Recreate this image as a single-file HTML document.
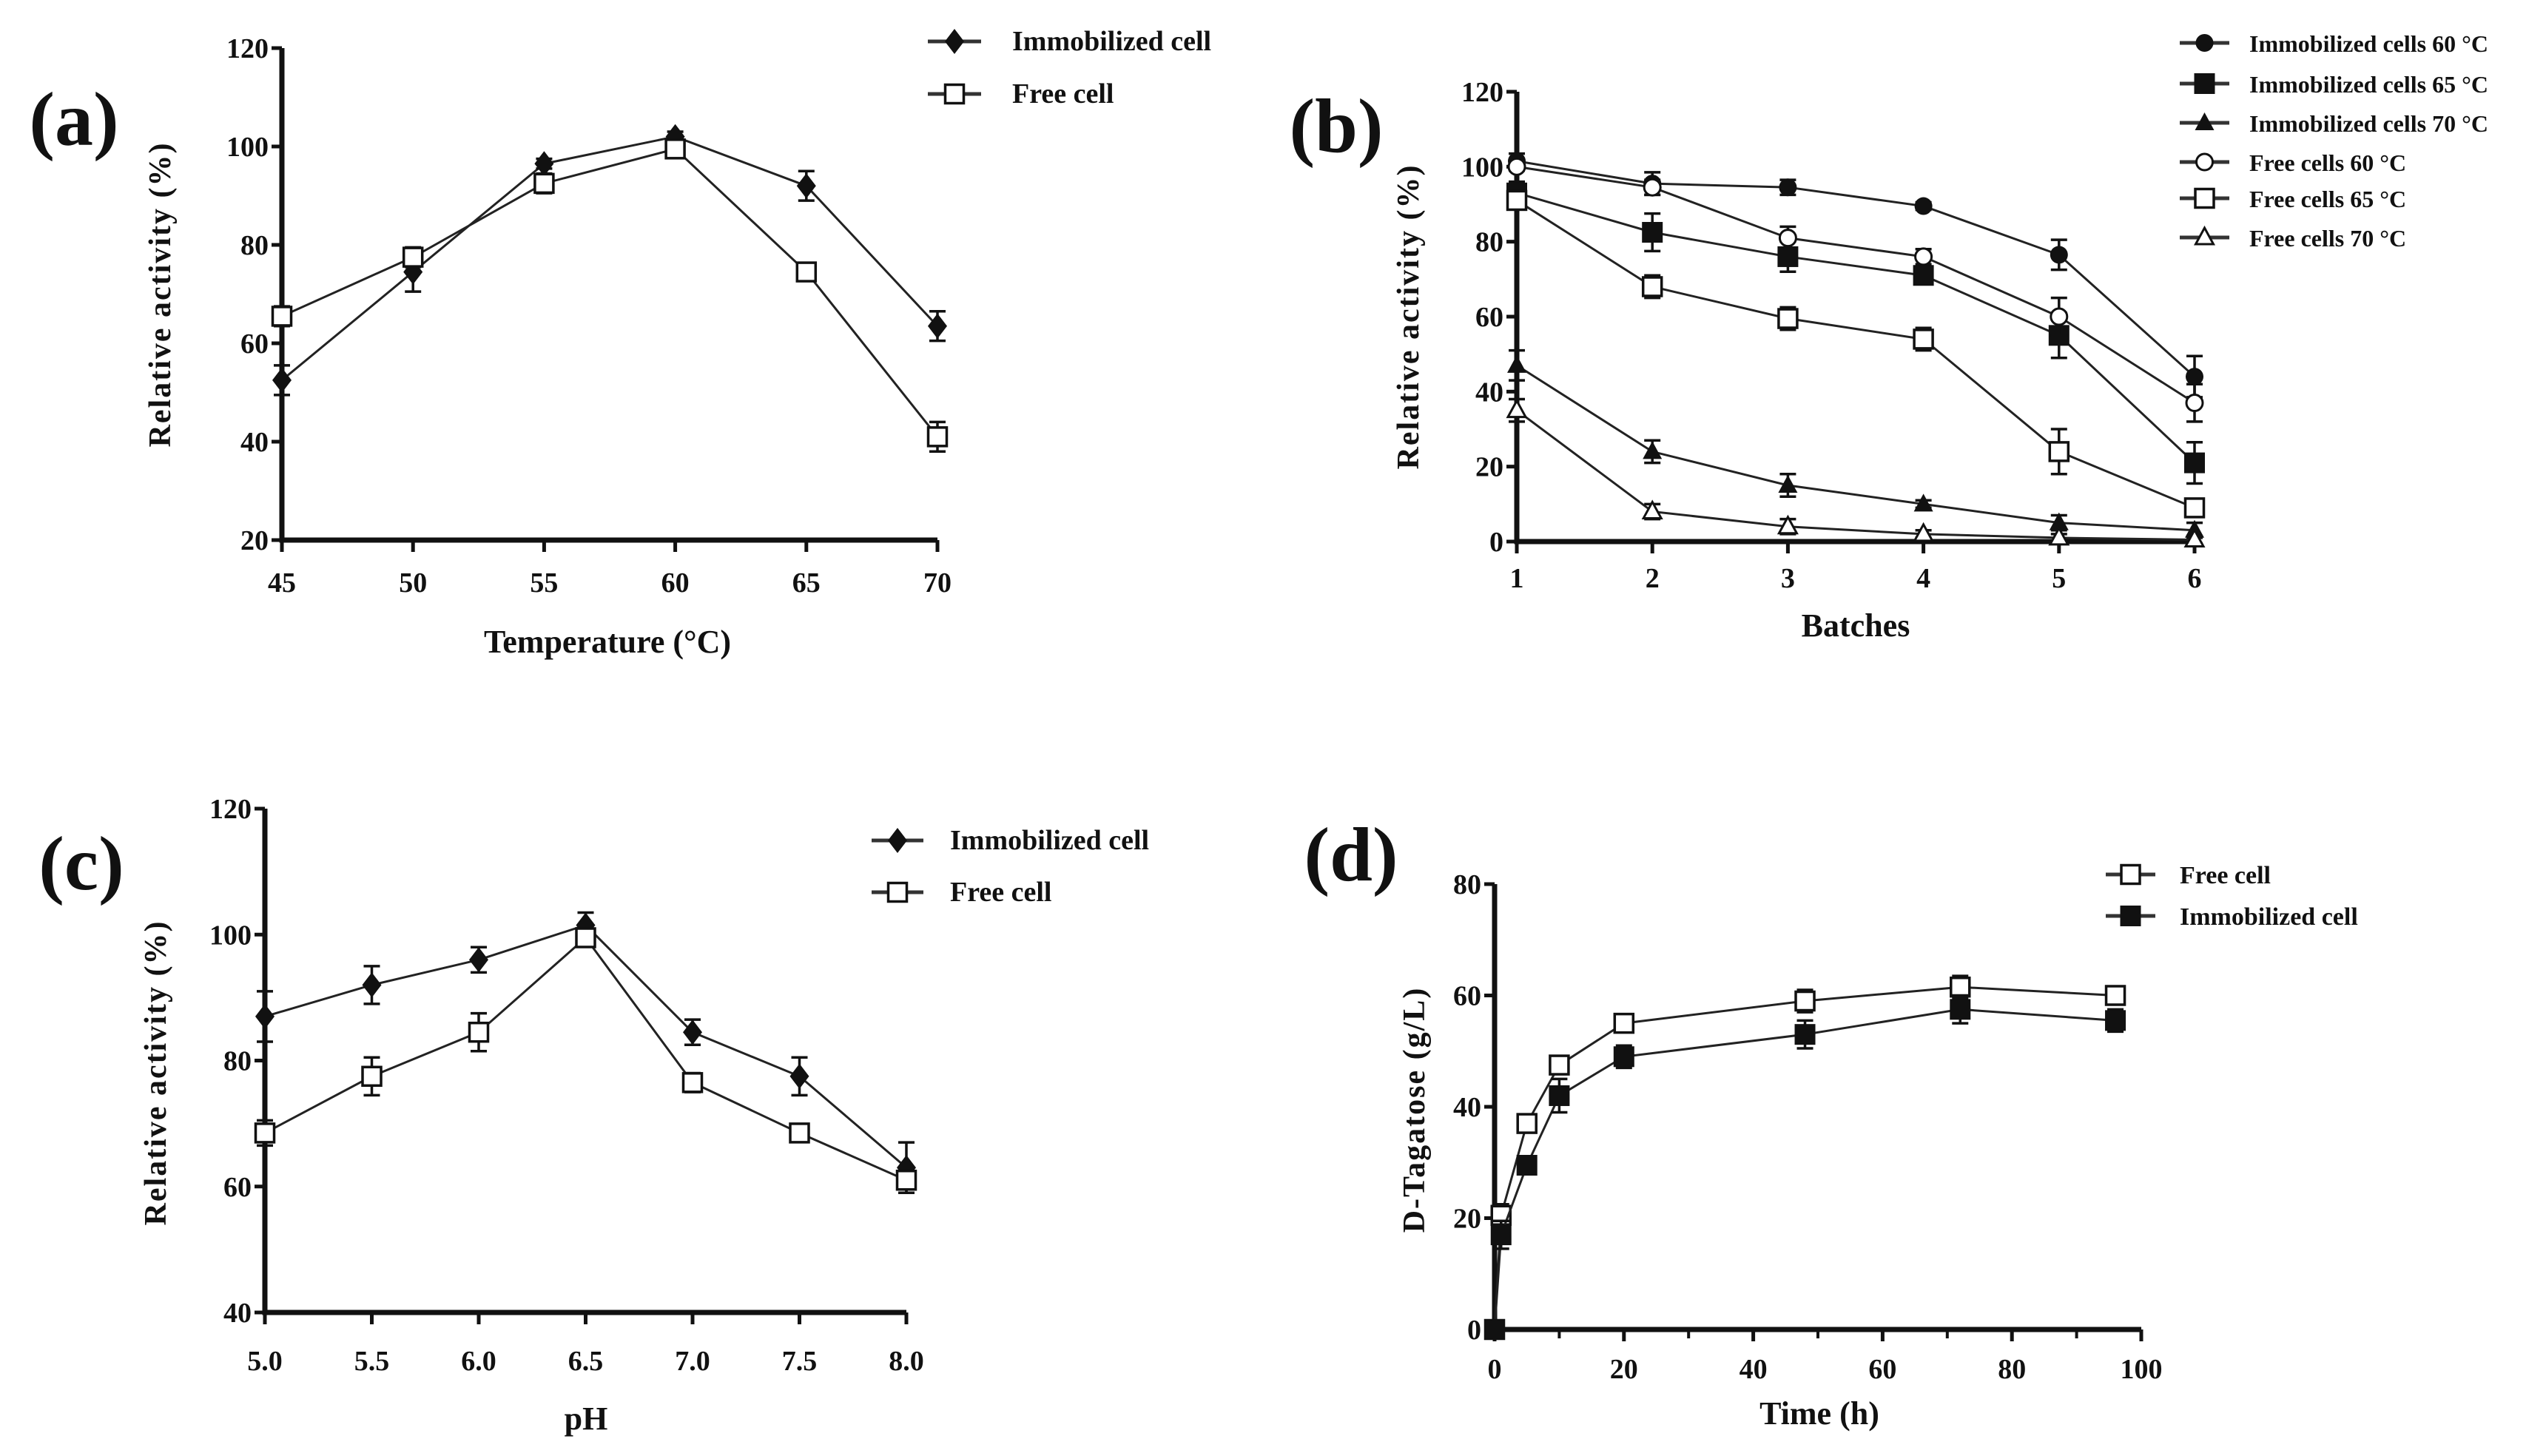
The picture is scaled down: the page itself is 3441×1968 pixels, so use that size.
<!DOCTYPE html>
<html><head><meta charset="utf-8"><style>
html,body{margin:0;padding:0;background:#fff}
svg{display:block}
text{font-family:"Liberation Serif",serif;font-weight:bold;fill:#111}
</style></head><body>
<svg id="fig" width="3441" height="1968" viewBox="0 0 3441 1968" xmlns="http://www.w3.org/2000/svg"></svg>
<script>
// ---- Panel (a) data ----
const aX = [45,50,55,60,65,70];
const aImm = [52.5,74.5,96.5,102,92,63.5];
const aImmErr = [3,4,1,1,3,3];
const aFree = [65.5,77.5,92.5,99.5,74.5,41];
const aFreeErr = [2,2,2,1,1,3];
const aYTicks = [20,40,60,80,100,120];
// ---- Panel (b) data ----
const bX = [1,2,3,4,5,6];
const bImm60 = [101.5,95.5,94.5,89.5,76.5,44];
const bImm60Err = [2,3,2,1,4,5.5];
const bImm65 = [93,82.5,76,71,55,21];
const bImm65Err = [3,5,4,2,6,5.5];
const bImm70 = [47,24,15,10,5,3];
const bImm70Err = [4,3,3,1,2,2];
const bFree60 = [100,94.5,81,76,60,37];
const bFree60Err = [1,2,3,2,5,5];
const bFree65 = [91,68,59.5,54,24,9];
const bFree65Err = [2,3,3,3,6,2];
const bFree70 = [35,8,4,2,1,0.5];
const bFree70Err = [3,2,2,1,1,1];
const bYTicks = [0,20,40,60,80,100,120];
// ---- Panel (c) data ----
const cX = [5.0,5.5,6.0,6.5,7.0,7.5,8.0];
const cXLabels = ["5.0","5.5","6.0","6.5","7.0","7.5","8.0"];
const cImm = [87,92,96,101.5,84.5,77.5,63];
const cImmErr = [4,3,2,2,2,3,4];
const cFree = [68.5,77.5,84.5,99.5,76.5,68.5,61];
const cFreeErr = [2,3,3,1,1.5,1,2];
const cYTicks = [40,60,80,100,120];
// ---- Panel (d) data ----
const dX = [0,1,5,10,20,48,72,96];
const dFree = [0,20.5,37,47.5,55,59,61.5,60];
const dFreeErr = [0,2,1.5,1.5,1,2,2,1];
const dImm = [0,17,29.5,42,49,53,57.5,55.5];
const dImmErr = [0,2.5,1.5,3,2,2.5,2.5,2];
const dXTicks = [0,20,40,60,80,100];
const dYTicks = [0,20,40,60,80];

const NS="http://www.w3.org/2000/svg";
const svg=document.getElementById('fig');
function mk(tag,attrs,parent,txt){const e=document.createElementNS(NS,tag);for(const k in attrs)e.setAttribute(k,attrs[k]);if(txt!==undefined)e.textContent=txt;(parent||svg).appendChild(e);return e;}
function lin(d0,d1,p0,p1){return v=>p0+(v-d0)*(p1-p0)/(d1-d0);}

function marker(g,type,x,y){
  const s=14;let e;
  if(type==='diamond'){e=mk('polygon',{points:`${x},${y-17} ${x+13},${y} ${x},${y+17} ${x-13},${y}`,fill:'#111'},g);}
  else if(type==='sqfill'){e=mk('rect',{x:x-s,y:y-s,width:2*s,height:2*s,fill:'#111'},g);}
  else if(type==='sqopen'){e=mk('rect',{x:x-s+1.5,y:y-s+1.5,width:2*s-3,height:2*s-3,fill:'#fff',stroke:'#111','stroke-width':3.5},g);}
  else if(type==='circfill'){e=mk('circle',{cx:x,cy:y,r:12,fill:'#111'},g);}
  else if(type==='circopen'){e=mk('circle',{cx:x,cy:y,r:11,fill:'#fff',stroke:'#111','stroke-width':3},g);}
  else if(type==='trifill'){e=mk('polygon',{points:`${x},${y-14} ${x+13},${y+10} ${x-13},${y+10}`,fill:'#111'},g);}
  else if(type==='triopen'){e=mk('polygon',{points:`${x},${y-13} ${x+12},${y+9} ${x-12},${y+9}`,fill:'#fff',stroke:'#111','stroke-width':3},g);}
  
  
}

function series(name,xs,ys,errs,sx,sy,type){
  const g=mk('g',{});
  
  
  const pts=xs.map((x,i)=>sx(x)+','+sy(ys[i])).join(' ');
  mk('polyline',{points:pts,fill:'none',stroke:'#222','stroke-width':3},g);
  xs.forEach((x,i)=>{
    if(errs[i]>0){
      const px=sx(x),t=sy(ys[i]+errs[i]),b=sy(ys[i]-errs[i]);
      const eb=mk('path',{d:`M${px},${t}V${b}M${px-11},${t}H${px+11}M${px-11},${b}H${px+11}`,stroke:'#111','stroke-width':3.5,fill:'none'},g);
      
      
    }
  });
  xs.forEach((x,i)=>marker(g,type,sx(x),sy(ys[i])));
}

function axes(p){
  const g=mk('g',{});
  
  
  mk('path',{d:`M${p.x0},${p.yt}V${p.yb}H${p.x1}`,stroke:'#111','stroke-width':7,fill:'none'},g);
  p.yticks.forEach(v=>{const y=p.sy(v);
    mk('line',{x1:p.x0-14,x2:p.x0,y1:y,y2:y,stroke:'#111','stroke-width':5},g);
    const t=mk('text',{x:p.x0-18,y:y+13,'text-anchor':'end','font-size':38},g,String(v));
    
    
  });
  p.xticks.forEach((v,i)=>{const x=p.sx(v);
    mk('line',{x1:x,x2:x,y1:p.yb,y2:p.yb+16,stroke:'#111','stroke-width':5},g);
    const t=mk('text',{x:x,y:p.yb+p.xlo,'text-anchor':'middle','font-size':38},g,p.xlabels?p.xlabels[i]:String(v));
    
    
  });
  (p.minor||[]).forEach(v=>{const x=p.sx(v);
    mk('line',{x1:x,x2:x,y1:p.yb,y2:p.yb+12,stroke:'#111','stroke-width':4},g);});
  const xt=mk('text',{x:p.xtx,y:p.xty,'text-anchor':'middle','font-size':44},g,p.xtitle);
  
  
  const yt=mk('text',{x:0,y:0,'text-anchor':'middle','font-size':42,transform:`translate(${p.ytx},${p.yty}) rotate(-90)`,'letter-spacing':2},g,p.ytitle);
  
  
  const pl=mk('text',{x:p.lx,y:p.ly,'text-anchor':'middle','font-size':104},g,p.label);
  
  
}

function legend(items,lx0,lx1,tx,ys,fs){
  items.forEach((it,i)=>{
    const g=mk('g',{});
    
    
    mk('line',{x1:lx0,x2:lx1,y1:ys[i],y2:ys[i],stroke:'#333','stroke-width':5},g);
    marker(g,it[1],(lx0+lx1)/2,ys[i]);
    mk('text',{x:tx,y:ys[i]+12,'font-size':fs},g,it[0]);
  });
}

// Panel (a)
{const sx=lin(45,70,381,1267), sy=lin(20,120,730,65);
axes({name:'panel-a',x0:381,x1:1267,yt:65,yb:730,sx,sy,yticks:aYTicks,xticks:aX,xlo:70,xtitle:'Temperature (°C)',xtx:821,xty:882,ytitle:'Relative activity (%)',ytx:230,yty:398,label:'(a)',lx:100,ly:196});
series('immobilized-cell-series',aX,aImm,aImmErr,sx,sy,'diamond');
series('free-cell-series',aX,aFree,aFreeErr,sx,sy,'sqopen');
legend([['Immobilized cell','diamond'],['Free cell','sqopen']],1254,1326,1368,[56,127],38);}

// Panel (b)
{const sx=lin(1,6,2050,2966), sy=lin(0,120,732,124);
axes({name:'panel-b',x0:2050,x1:2966,yt:124,yb:732,sx,sy,yticks:bYTicks,xticks:bX,xlo:62,xtitle:'Batches',xtx:2508,xty:860,ytitle:'Relative activity (%)',ytx:1917,yty:428,label:'(b)',lx:1806,ly:205});
series('immobilized-60-series',bX,bImm60,bImm60Err,sx,sy,'circfill');
series('immobilized-65-series',bX,bImm65,bImm65Err,sx,sy,'sqfill');
series('immobilized-70-series',bX,bImm70,bImm70Err,sx,sy,'trifill');
series('free-60-series',bX,bFree60,bFree60Err,sx,sy,'circopen');
series('free-65-series',bX,bFree65,bFree65Err,sx,sy,'sqopen');
series('free-70-series',bX,bFree70,bFree70Err,sx,sy,'triopen');
legend([['Immobilized cells 60 °C','circfill'],['Immobilized cells 65 °C','sqfill'],['Immobilized cells 70 °C','trifill'],['Free cells 60 °C','circopen'],['Free cells 65 °C','sqopen'],['Free cells 70 °C','triopen']],2946,3013,3040,[58,113,166,219,268,321],32);}

// Panel (c)
{const sx=lin(5,8,358,1225), sy=lin(40,120,1774,1093);
axes({name:'panel-c',x0:358,x1:1225,yt:1093,yb:1774,sx,sy,yticks:cYTicks,xticks:cX,xlabels:cXLabels,xlo:78,xtitle:'pH',xtx:792,xty:1932,ytitle:'Relative activity (%)',ytx:224,yty:1450,label:'(c)',lx:110,ly:1202});
series('immobilized-cell-series',cX,cImm,cImmErr,sx,sy,'diamond');
series('free-cell-series',cX,cFree,cFreeErr,sx,sy,'sqopen');
legend([['Immobilized cell','diamond'],['Free cell','sqopen']],1178,1248,1284,[1136,1206],38);}

// Panel (d)
{const sx=lin(0,100,2020,2894), sy=lin(0,80,1797,1195);
axes({name:'panel-d',x0:2020,x1:2894,yt:1195,yb:1797,sx,sy,yticks:dYTicks,xticks:dXTicks,xlo:66,minor:[10,30,50,70,90],xtitle:'Time (h)',xtx:2459,xty:1925,ytitle:'D-Tagatose (g/L)',ytx:1925,yty:1500,label:'(d)',lx:1826,ly:1190});
series('free-cell-series',dX,dFree,dFreeErr,sx,sy,'sqopen');
series('immobilized-cell-series',dX,dImm,dImmErr,sx,sy,'sqfill');
legend([['Free  cell','sqopen'],['Immobilized cell','sqfill']],2846,2913,2946,[1182,1238],34);}
</script>
</body></html>
